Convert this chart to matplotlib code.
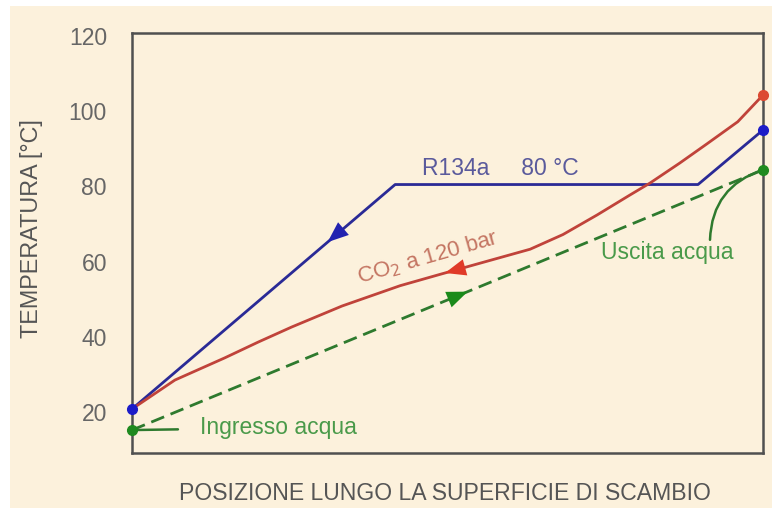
import numpy as np
import matplotlib.pyplot as plt
from matplotlib.patches import Rectangle

# ===== data (posizione normalizzata 0..1, temperatura in °C) =====
pos_r134a = [0.0, 0.417, 0.897, 1.0]
temp_r134a = [20.8, 80.5, 80.5, 95.0]

pos_co2 = [0.0, 0.068, 0.147, 0.2, 0.253, 0.333, 0.425, 0.488, 0.552, 0.631, 0.683,
           0.737, 0.789, 0.821, 0.868, 0.911, 0.96, 1.0]
temp_co2 = [20.8, 28.5, 34.4, 38.6, 42.6, 48.2, 53.6, 56.6, 59.6, 63.3, 67.2,
            72.4, 77.7, 80.9, 86.2, 91.3, 97.2, 104.3]

pos_acqua = [0.0, 1.0]
temp_acqua = [15.2, 84.4]

yticks = [20, 40, 60, 80, 100, 120]

# ===== colours =====
bg = '#fcf1dc'
c_blue = '#2a2a96'
c_red = '#c0433a'
c_green = '#2e7a2e'

plt.rcParams['font.family'] = ['Liberation Sans', 'DejaVu Sans']

fig = plt.figure(figsize=(7.72, 5.08), dpi=100)
fig.patch.set_facecolor('white')
fig.patches.append(Rectangle((10 / 772, 0), 1, 1 - 6 / 508, transform=fig.transFigure,
                             facecolor=bg, edgecolor='none', zorder=-10))

ax = fig.add_axes([132 / 772, 1 - 453 / 508, (763 - 132) / 772, (453 - 33) / 508])
ax.set_facecolor(bg)

# lines
ax.plot(pos_r134a, temp_r134a, color=c_blue, lw=2.0, zorder=3)
ax.plot(pos_co2, temp_co2, color=c_red, lw=2.0, zorder=3)
ax.plot(pos_acqua, temp_acqua, color=c_green, lw=2.0, ls=(0, (5, 2.5)), zorder=3)

# end points
ax.plot([pos_r134a[0], pos_r134a[-1]], [temp_r134a[0], temp_r134a[-1]], 'o',
        color='#1c1cc8', ms=7, clip_on=False, zorder=5)
ax.plot([pos_co2[-1]], [temp_co2[-1]], 'o', color='#dc4a32', ms=7, clip_on=False, zorder=5)
ax.plot(pos_acqua, temp_acqua, 'o', color='#1f8a1f', ms=7, clip_on=False, zorder=5)


def arrow_on(xs, ys, x, step, color):
    # filled arrow head lying on the curve, pointing in the flow direction
    y0 = np.interp(x, xs, ys)
    y1 = np.interp(x + step, xs, ys)
    ax.annotate('', xy=(x + step, y1), xytext=(x, y0),
                arrowprops=dict(arrowstyle='-|>,head_length=0.75,head_width=0.3',
                                color=color, lw=0, mutation_scale=20,
                                shrinkA=0, shrinkB=0),
                zorder=6)


arrow_on(pos_r134a, temp_r134a, 0.33, -0.02, '#2222b0')
arrow_on(pos_co2, temp_co2, 0.516, -0.02, '#e03a28')
arrow_on(pos_acqua, temp_acqua, 0.512, 0.02, '#1a8a1a')

# labels on the chart
ax.text(0.583, 83.0, 'R134a     80 °C', color='#5a5a9c', fontsize=16.5, ha='center', va='baseline')
ax.text(0.469, 61.0, 'CO$_2$ a 120 bar', color='#c47562', fontsize=16, ha='center',
        va='center', rotation=16)

ax.annotate('Ingresso acqua', xy=(pos_acqua[0], temp_acqua[0]), xytext=(0.108, 15.8),
            color='#4a9a4a', fontsize=16.5, ha='left', va='center',
            arrowprops=dict(arrowstyle='-', color=c_green, lw=1.8, shrinkA=14, shrinkB=0))

ax.text(0.849, 62.3, 'Uscita acqua', color='#4a9a4a', fontsize=16.5, ha='center', va='center')
ax.annotate('', xy=(pos_acqua[-1], temp_acqua[-1]), xytext=(0.916, 65.8),
            arrowprops=dict(arrowstyle='-', color=c_green, lw=1.8, shrinkA=0, shrinkB=0,
                            connectionstyle='arc3,rad=-0.35'))

# axes styling
ax.set_xlim(0, 1)
ax.set_ylim(9.1, 120.8)
ax.set_xticks([])
ax.set_yticks(yticks)
ax.tick_params(axis='y', length=0, pad=18, labelsize=16.5, labelcolor='#666666')
for s in ax.spines.values():
    s.set_color('#505050')
    s.set_linewidth(1.8)

fig.text(32 / 772, 1 - 229 / 508, 'TEMPERATURA [°C]', rotation=90, ha='center', va='center',
         fontsize=16.8, color='#555555')
fig.text(445 / 772, 1 - 493 / 508, 'POSIZIONE LUNGO LA SUPERFICIE DI SCAMBIO',
         ha='center', va='center', fontsize=16.6, color='#555555')

plt.savefig('out.png', dpi=100, facecolor=fig.get_facecolor())
